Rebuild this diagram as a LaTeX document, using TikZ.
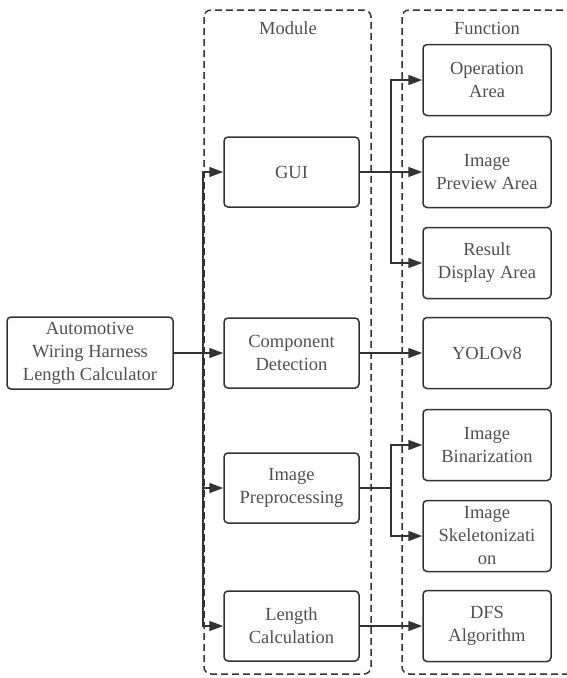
\documentclass[tikz,border=0pt]{standalone}
\usepackage{fontspec}
\setmainfont{Liberation Serif}
\usetikzlibrary{arrows.meta}

\begin{document}
\begin{tikzpicture}[x=1pt,y=-1pt,
  box/.style={draw=lineDark, line width=1.5pt, rounded corners=4pt, align=center,
    text=textGray, font=\fontsize{18.5}{23}\selectfont, inner sep=0pt},
  modbox/.style={box, minimum width=135pt, minimum height=70pt},
  funbox/.style={box, minimum width=128pt, minimum height=71pt},
  group/.style={draw=lineDark, line width=1.5pt, rounded corners=7pt, dash pattern=on 7pt off 4pt},
  title/.style={text=textGray, font=\fontsize{18.5}{23}\selectfont},
  link/.style={draw=lineDark, line width=1.5pt},
  arrow/.style={link, -{Triangle[length=14pt,width=10pt]}}]

% Colori
\definecolor{lineDark}{HTML}{333333}
\definecolor{textGray}{HTML}{505050}

\useasboundingbox (0,0) rectangle (567,678);
\clip (0,0) rectangle (567,678);

% Gruppi tratteggiati
\draw[group] (204,10) rectangle (371,674);
\draw[group] (402,10) rectangle (580,674);
\node[title] (modTitle) at (288,28) {Module};
\node[title] (funTitle) at (487,28) {Function};

% Sistema
\node[box, minimum width=166pt, minimum height=72pt] (harness) at (90,353)
  {Automotive\\Wiring Harness\\Length Calculator};

% Moduli
\node[modbox] (gui)   at (291.5,172) {GUI};
\node[modbox] (comp)  at (291.5,353) {Component\\Detection};
\node[modbox] (prep)  at (291.5,488) {Image\\Preprocessing};
\node[modbox] (len)   at (291.5,626) {Length\\Calculation};

% Funzioni
\node[funbox] (opArea)  at (487,80)  {Operation\\Area};
\node[funbox] (prevArea) at (487,172) {Image\\Preview Area};
\node[funbox] (resArea) at (487,263) {Result\\Display Area};
\node[funbox] (yolo)    at (487,353) {YOLOv8};
\node[funbox] (binar)   at (487,445) {Image\\Binarization};
\node[funbox] (skel)    at (487,536) {Image\\Skeletonizati\\on};
\node[funbox] (dfs)     at (487,626) {DFS\\Algorithm};

% Punti di diramazione
\coordinate (trunk) at (203,353);
\coordinate (guiSplit) at (391,172);
\coordinate (prepSplit) at (391,488);

% Collegamenti
\draw[arrow] (harness.east) -- (comp.west);
\draw[arrow] (trunk) |- (gui.west);
\draw[arrow] (trunk) |- (prep.west);
\draw[arrow] (trunk) |- (len.west);

\draw[arrow] (gui.east) -- (prevArea.west);
\draw[arrow] (guiSplit) |- (opArea.west);
\draw[arrow] (guiSplit) |- (resArea.west);

\draw[arrow] (comp.east) -- (yolo.west);

\draw[link] (prep.east) -- (prepSplit);
\draw[arrow] (prepSplit) |- (binar.west);
\draw[arrow] (prepSplit) |- (skel.west);

\draw[arrow] (len.east) -- (dfs.west);
\end{tikzpicture}
\end{document}
